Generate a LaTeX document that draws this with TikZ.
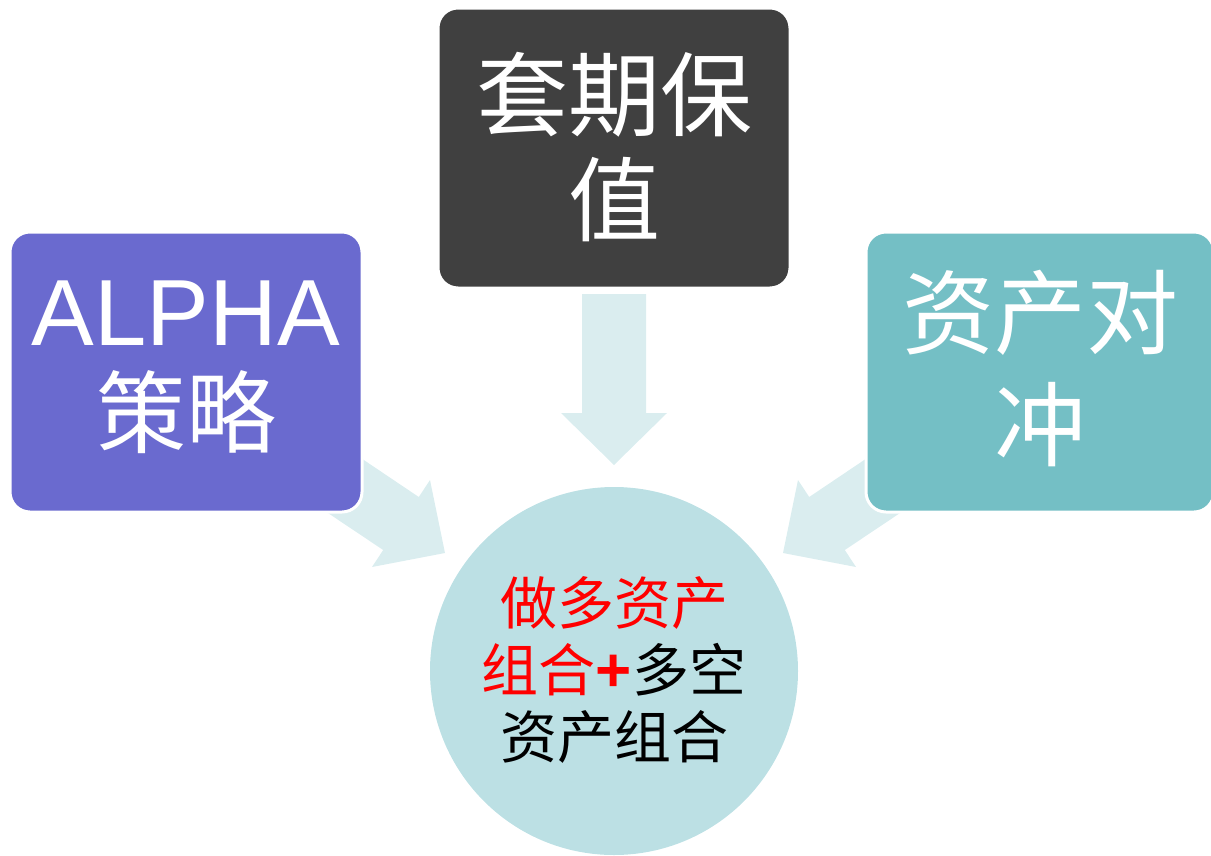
\documentclass[tikz,border=0pt]{standalone}
\usepackage{fontspec}
\setmainfont{Liberation Sans}
\newfontfamily\cjk{Noto Sans CJK SC}
\definecolor{cpurple}{HTML}{6A6ACF}
\definecolor{cdark}{HTML}{404040}
\definecolor{cteal}{HTML}{74BFC5}
\definecolor{ccircle}{HTML}{BCE0E4}
\definecolor{carrow}{HTML}{DAEDEF}
\definecolor{cred}{HTML}{FF0000}
\begin{document}
\begin{tikzpicture}[x=1pt,y=-1pt,
  box/.style={draw=white,line width=3pt,rounded corners=20pt},
  bigarrow/.style={fill=carrow,draw=none},
  boxtext/.style={text=white,align=center,inner sep=0pt}]
\useasboundingbox (0,0) rectangle (1211,855);
% arrows
\fill[bigarrow] (582,294) -- (646,294) -- (646,413) -- (667,413) -- (614,465) -- (561,413) -- (582,413) -- cycle;
\fill[bigarrow] (319.8,430.4) -- (418.8,497) -- (430,480) -- (445,553) -- (372,567) -- (383.2,550) -- (284,483.6) -- cycle;
\fill[bigarrow] (908.2,430.4) -- (809.2,497) -- (798,480) -- (783,553) -- (856,567) -- (844.8,550) -- (944,483.6) -- cycle;
% boxes
\filldraw[box,fill=cpurple] (10,232) rectangle (362,512);
\filldraw[box,fill=cdark] (438,8) rectangle (790,288);
\filldraw[box,fill=cteal] (866,232) rectangle (1214,512);
\fill[ccircle] (614,671) circle (184);
% texts
\node[boxtext] (alpha) at (186,313) {\fontsize{94}{100}\selectfont ALPHA};
\node[boxtext] (celue) at (186,412) {\cjk\fontsize{90}{100}\selectfont 策略};
\node[boxtext] (tao1) at (614,95) {\cjk\fontsize{92}{100}\selectfont 套期保};
\node[boxtext] (tao2) at (614,200) {\cjk\fontsize{92}{100}\selectfont 值};
\node[boxtext] (zc1) at (1040,313) {\cjk\fontsize{92}{100}\selectfont 资产对};
\node[boxtext] (zc2) at (1040,425) {\cjk\fontsize{92}{100}\selectfont 冲};
\node[inner sep=0pt,text=cred] (c1) at (614,603) {\cjk\fontsize{57}{60}\selectfont 做多资产};
\node[inner sep=0pt] (c2) at (614,670) {\cjk\fontsize{57}{60}\selectfont\textcolor{cred}{组合}{\rmfamily\bfseries\fontsize{62}{60}\selectfont\textcolor{cred}{+}}多空};
\node[inner sep=0pt] (c3) at (614,737) {\cjk\fontsize{57}{60}\selectfont 资产组合};
\end{tikzpicture}
\end{document}
